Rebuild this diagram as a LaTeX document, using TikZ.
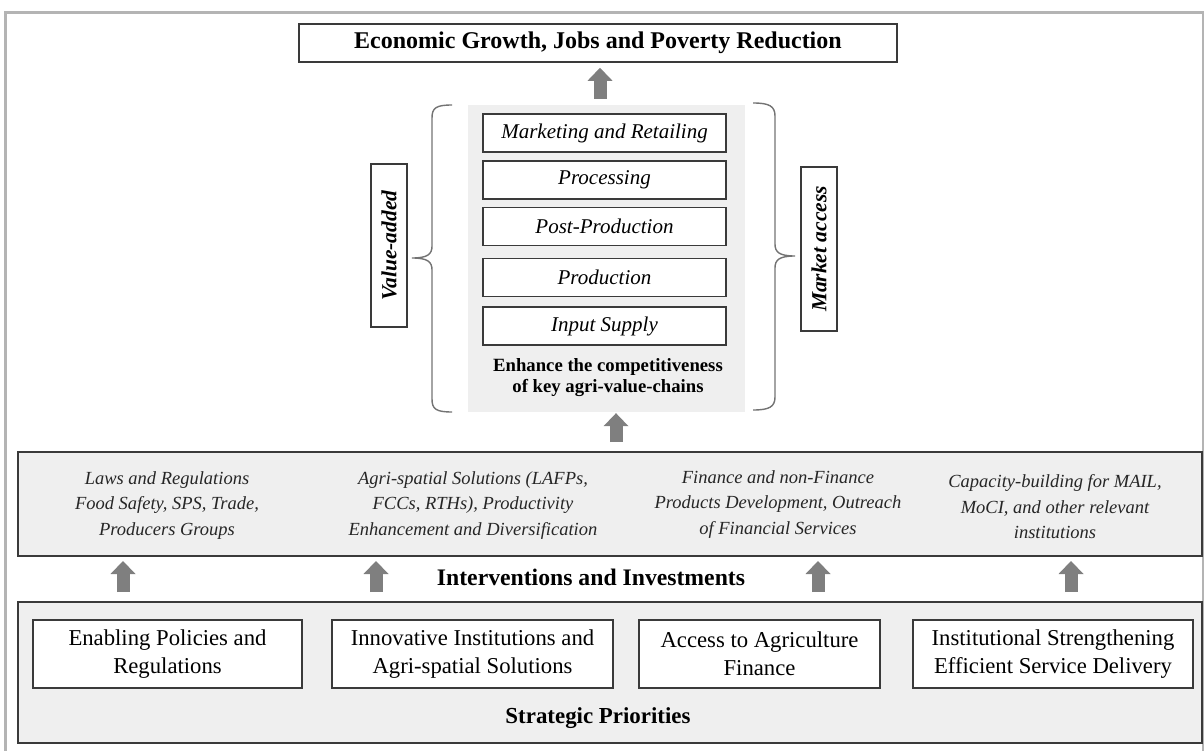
\documentclass[tikz,border=0pt]{standalone}
\usepackage{fontspec}
\setmainfont{Liberation Serif}
\usetikzlibrary{calc}
\usetikzlibrary{arrows.meta}
\usepackage{xcolor}
\definecolor{panel}{HTML}{EFEFEF}
\definecolor{arrowgray}{HTML}{7F7F7F}
\definecolor{framegray}{HTML}{B4B4B4}
\definecolor{edge}{HTML}{3A3A3A}

\begin{document}
\begin{tikzpicture}[x=1pt, y=-1pt,
 box/.style={draw=edge, line width=1.3pt, fill=white, inner sep=0pt, align=center},
 up/.style={draw=arrowgray, line width=13pt, -{Triangle[width=25pt,length=13pt,line width=0pt]}},
 brc/.style={draw=black!55, line width=1.4pt},
 chainfont/.style={font=\fontsize{21}{25}\selectfont\itshape},
 invfont/.style={align=center, text=black!85, font=\fontsize{18.5}{25.5}\selectfont\itshape},
 prifont/.style={font=\fontsize{22.7}{28}\selectfont}]
\useasboundingbox (0,0) rectangle (1204,751);
\draw[framegray, line width=3pt] (5,751)--(5,13)--(1203,13)--(1203,751);
\node[box, fill=panel, line width=2pt, minimum width=1184pt, minimum height=104pt] (inv) at (610,504) {};
\node[box, fill=panel, line width=2pt, minimum width=1184pt, minimum height=141pt] (prio) at (610,672.5) {};
\node[fill=panel, inner sep=0pt, minimum width=277pt, minimum height=307pt] (chain) at (606.5,258.5) {};
\node[box, line width=1.6pt, minimum width=598pt, minimum height=38pt, font=\fontsize{24}{28}\selectfont\bfseries] (goal) at (598,43) {Economic Growth, Jobs and Poverty Reduction};
\foreach \n/\y/\t in {mkt/133/Marketing and Retailing, proc/180/Processing, post/226.5/Post-Production, prod/277.5/Production, inp/326/Input Supply}
 \node[box, chainfont, minimum width=243pt, minimum height=38pt] (\n) at (604.5,\y) {\t};
\node[align=center, font=\fontsize{18.7}{21}\selectfont\bfseries] (enh) at (608,377.5) {Enhance the competitiveness\\of key agri-value-chains};
\node[box, line width=1.8pt, rotate=90, minimum width=163pt, minimum height=36pt, font=\fontsize{21.5}{25}\selectfont\bfseries\itshape] (va) at (389,245.5) {Value-added};
\node[box, line width=1.8pt, rotate=90, minimum width=164pt, minimum height=36pt, font=\fontsize{21.5}{25}\selectfont\bfseries\itshape] (ma) at (819,249) {Market access};
\draw[brc] (452,105) .. controls (436,105) and (432,108) .. (432,118) -- (432,246) .. controls (432,254) and (428,258) .. (412,258) .. controls (428,258) and (432,262) .. (432,270) -- (432,399) .. controls (432,409) and (436,412) .. (452,412);
\draw[brc] (753,103) .. controls (769,103) and (775,106) .. (775,116) -- (775,244) .. controls (775,252) and (779,256) .. (795,256) .. controls (779,256) and (775,260) .. (775,268) -- (775,397) .. controls (775,407) and (769,410) .. (753,410);
\node[invfont] (law) at (167,505.5) {Laws and Regulations\\Food Safety, SPS, Trade,\\Producers Groups};
\node[invfont] (agri) at (473,505.5) {Agri-spatial Solutions (LAFPs,\\FCCs, RTHs), Productivity\\Enhancement and Diversification};
\node[invfont] (fin) at (778,504.5) {Finance and non-Finance\\Products Development, Outreach\\of  Financial Services};
\node[invfont] (cap) at (1055,507) {Capacity-building for MAIL,\\MoCI, and other relevant\\institutions};
\node[font=\fontsize{23.7}{28}\selectfont\bfseries] (invlab) at (591,577) {Interventions and Investments};
\node[box, prifont, minimum width=269pt, minimum height=68pt] (pol) at (167.5,654) {Enabling Policies and\\Regulations};
\node[box, prifont, minimum width=281pt, minimum height=68pt] (inst) at (472.5,654) {Innovative Institutions and\\Agri-spatial Solutions};
\node[box, prifont, minimum width=241pt, minimum height=68pt] (acc) at (759.5,654) {Access to Agriculture\\Finance};
\node[box, prifont, minimum width=280pt, minimum height=68pt] (str) at (1053,654) {Institutional Strengthening\\Efficient Service Delivery};
\node[font=\fontsize{22.9}{28}\selectfont\bfseries] (prilab) at (598,718) {Strategic Priorities};
\draw[up, shorten <=6pt, shorten >=5pt] (chain.north -| 600,0) -- (goal.south -| 600,0);
\draw[up, shorten <=9pt, shorten >=1pt] (inv.north -| 616,0) -- (chain.south -| 616,0);
\foreach \x in {123,376,818,1071}
 \draw[up, shorten <=9pt, shorten >=4pt] (prio.north -| \x,0) -- (inv.south -| \x,0);
\end{tikzpicture}
\end{document}
